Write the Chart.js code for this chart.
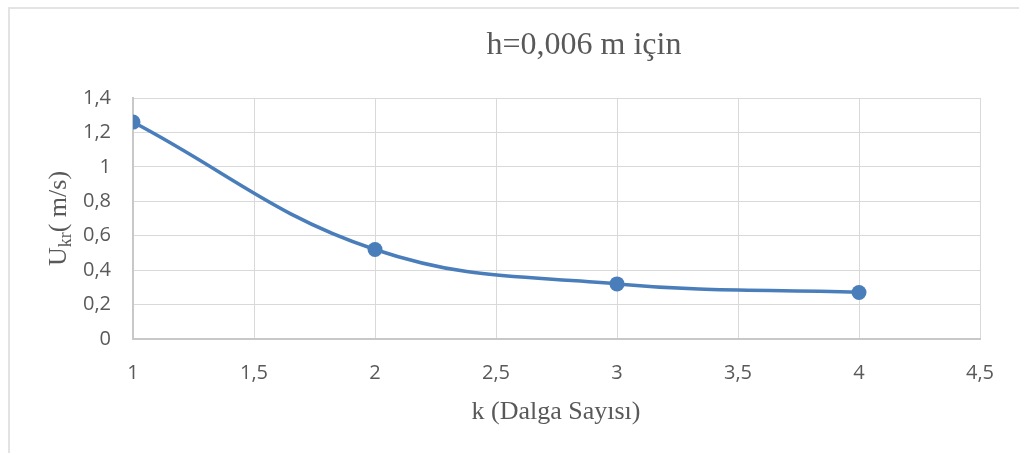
<!DOCTYPE html>
<html>
<head>
<meta charset="utf-8">
<script src="https://cdn.jsdelivr.net/npm/chart.js@4"></script>
<style>
  html, body { margin: 0; padding: 0; background: #fff; }
  #wrap { position: relative; width: 1019px; height: 453px; }
  #frame { position: absolute; left: 8px; top: 7px; right: 0; bottom: 0;
           border-left: 2px solid #e3e3e3; border-top: 2px solid #e3e3e3; }
  canvas { position: absolute; left: 0; top: 0; }
</style>
</head>
<body>
<div id="wrap">
  <div id="frame"></div>
  <canvas id="chart" width="1019" height="453"></canvas>
</div>
<script>
// dalga sayısı k ve kritik hız U_kr (h = 0,006 m)
const kValues = [1, 2, 3, 4];
const ukrValues = [1.26, 0.52, 0.32, 0.27];

const chartTitle = 'h=0,006 m için';
const xTitle = 'k (Dalga Sayısı)';

const textColor = '#595959';
const lineColor = '#4a7ebb';

// virgüllü ondalık gösterim
function fmt(v) {
    return String(Math.round(v * 10) / 10).replace('.', ',');
}

// başlık ve eksen adları (alt indisli U_kr için elle çiziliyor)
const titlesPlugin = {
    id: 'titles',
    afterDraw(chart) {
        const ctx = chart.ctx;
        const area = chart.chartArea;
        ctx.save();
        ctx.fillStyle = textColor;
        ctx.textBaseline = 'alphabetic';

        ctx.font = '32px "Liberation Serif"';
        ctx.textAlign = 'center';
        ctx.fillText(chartTitle, 584, 54);

        ctx.font = '26px "Liberation Serif"';
        ctx.fillText(xTitle, 556, 419);

        // y ekseni: U + kr (alt indis) + ( m/s)
        const big = '26px "Liberation Serif"';
        const small = '18px "Liberation Serif"';
        ctx.font = big;
        const wU = ctx.measureText('U').width;
        const wRest = ctx.measureText('( m/s)').width;
        ctx.font = small;
        const wSub = ctx.measureText('kr').width;
        const total = wU + wSub + wRest;

        ctx.translate(66, (area.top + area.bottom) / 2);
        ctx.rotate(-Math.PI / 2);
        ctx.textAlign = 'left';
        let x = -total / 2;
        ctx.font = big;
        ctx.fillText('U', x, 0);
        x += wU;
        ctx.font = small;
        ctx.fillText('kr', x, 5);
        x += wSub;
        ctx.font = big;
        ctx.fillText('( m/s)', x, 0);
        ctx.restore();
    }
};

new Chart(document.getElementById('chart'), {
    type: 'line',
    data: {
        datasets: [{
            data: kValues.map((k, i) => ({ x: k, y: ukrValues[i] })),
            borderColor: lineColor,
            backgroundColor: lineColor,
            borderWidth: 3.5,
            pointRadius: 7.5,
            pointHoverRadius: 7.5,
            pointBorderWidth: 0,
            tension: 0.4,
            fill: false
        }]
    },
    options: {
        responsive: false,
        animation: false,
        events: [],
        layout: { padding: { left: 0, top: 98, right: 39, bottom: 0 } },
        plugins: {
            legend: { display: false },
            tooltip: { enabled: false }
        },
        scales: {
            x: {
                type: 'linear',
                min: 1,
                max: 4.5,
                afterFit(scale) { scale.height = 114; },
                ticks: {
                    stepSize: 0.5,
                    padding: 22,
                    color: textColor,
                    font: { family: 'Open Sans', size: 20 },
                    callback: v => fmt(v)
                },
                grid: { color: '#d9d9d9', lineWidth: 1, drawTicks: false },
                border: { color: '#c8c8c8', width: 2 }
            },
            y: {
                min: 0,
                max: 1.4,
                afterFit(scale) { scale.width = 133; },
                ticks: {
                    stepSize: 0.2,
                    padding: 22,
                    color: textColor,
                    font: { family: 'Open Sans', size: 20 },
                    callback: v => fmt(v)
                },
                grid: { color: '#d9d9d9', lineWidth: 1, drawTicks: false },
                border: { color: '#c8c8c8', width: 2 }
            }
        }
    },
    plugins: [titlesPlugin]
});
</script>
</body>
</html>
